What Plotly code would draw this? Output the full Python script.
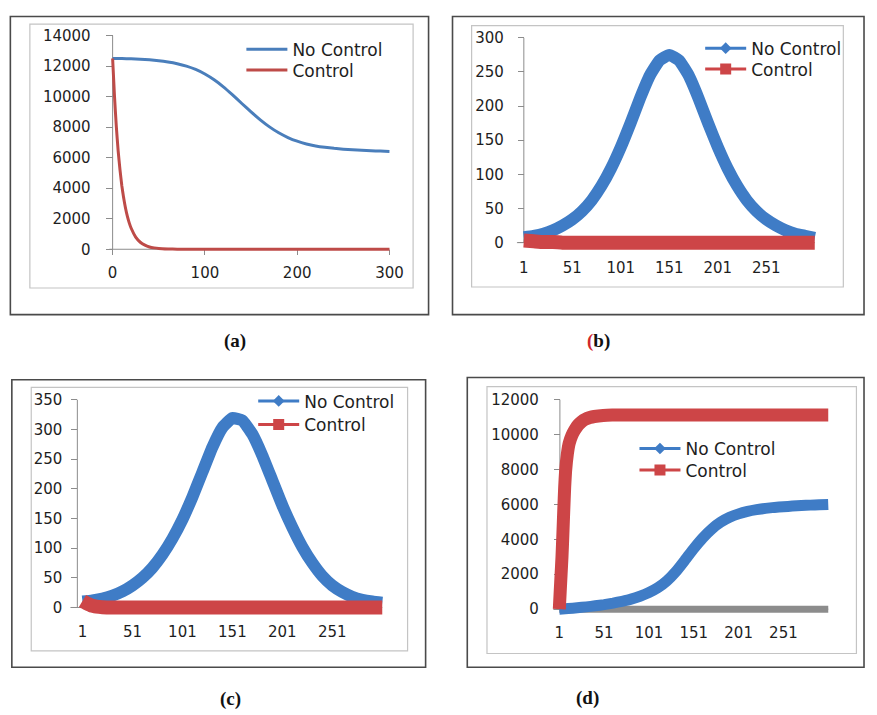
import plotly.graph_objects as go

W, H = 877, 715

# ---------------- data ----------------
# panel (a)
a_days_nc = [0, 10, 20, 30, 40, 50, 60, 70, 80, 90, 100, 110, 120, 130, 140, 150,
             160, 170, 180, 190, 200, 210, 220, 230, 240, 250, 260, 270, 280, 290, 300]
a_no_control = [12500, 12490, 12475, 12450, 12410, 12350, 12270, 12160, 12000, 11780, 11480,
                11100, 10640, 10110, 9550, 9000, 8480, 8020, 7630, 7320, 7080, 6900, 6770,
                6680, 6610, 6560, 6520, 6490, 6460, 6430, 6410]
a_days_c = [0, 2, 4, 6, 8, 10, 12, 14, 16, 18, 20, 25, 30, 35, 40, 45, 50, 60, 70, 80,
            100, 150, 200, 250, 300]
a_control = [12500, 10050, 8050, 6450, 5200, 4150, 3350, 2680, 2150, 1730, 1390, 800, 460,
             265, 150, 90, 50, 17, 6, 2, 0, 0, 0, 0, 0]
a_xticks = [0, 100, 200, 300]
a_yticks = [0, 2000, 4000, 6000, 8000, 10000, 12000, 14000]

# panels (b)-(d): day categories
cats = [1, 11, 21, 31, 41, 51, 61, 71, 81, 91, 101, 111, 121, 131, 141, 151,
        161, 171, 181, 191, 201, 211, 221, 231, 241, 251, 261, 271, 281, 291, 301]
cat_ticks = [1, 51, 101, 151, 201, 251]

# panel (b)
b_no_control = [8, 10, 13, 18, 25, 34, 46, 62, 83, 109, 140, 175, 212, 245, 267, 275,
                267, 245, 212, 175, 140, 109, 83, 62, 46, 34, 25, 18, 13, 10, 7]
b_control = [3, 2, 1, 1, 0, 0, 0, 0, 0, 0, 0, 0, 0, 0, 0, 0,
             0, 0, 0, 0, 0, 0, 0, 0, 0, 0, 0, 0, 0, 0, 0]
b_yticks = [0, 50, 100, 150, 200, 250, 300]

# panel (c)
c_no_control = [10, 12, 15, 20, 27, 37, 50, 67, 89, 116, 148, 186, 228, 270, 303, 319,
                315, 292, 256, 214, 172, 135, 102, 75, 53, 37, 26, 18, 13, 10, 8]
c_cats_control = [1, 3, 5, 7, 9, 11, 15, 21, 31, 51, 101, 151, 201, 251, 301]
c_control = [11, 9, 7, 5.5, 4, 3, 1.5, 0.5, 0, 0, 0, 0, 0, 0, 0]
c_yticks = [0, 50, 100, 150, 200, 250, 300, 350]

# panel (d)
d_no_control = [0, 35, 80, 130, 190, 260, 345, 450, 575, 740, 950, 1230, 1620, 2150, 2800,
                3470, 4080, 4590, 4980, 5260, 5460, 5600, 5700, 5775, 5830, 5870, 5905,
                5935, 5960, 5980, 6000]
d_cats_control = [1, 2, 3, 4, 5, 6, 7, 8, 10, 12, 15, 18, 22, 26, 30, 35, 40, 50, 60, 80,
                  101, 151, 201, 251, 301]
d_control = [0, 1000, 2000, 3000, 4300, 5700, 7000, 7900, 8900, 9500, 9950, 10250, 10550,
             10750, 10880, 10980, 11040, 11100, 11120, 11130, 11130, 11130, 11130, 11130, 11130]
d_baseline = [0, 0, 0, 0, 0, 0, 0, 0, 0, 0, 0, 0, 0, 0, 0, 0,
              0, 0, 0, 0, 0, 0, 0, 0, 0, 0, 0, 0, 0, 0, 0]
d_yticks = [0, 2000, 4000, 6000, 8000, 10000, 12000]

series_names = ["No Control", "Control"]

# ---------------- styling / geometry ----------------
BLUE_A, RED_A = "#4A7EBB", "#BE4B48"
BLUE, RED, GRAY = "#3F7CC6", "#CD4547", "#8C8C8C"
TXT = "#1e1e1e"
AXC = "#8C8C8C"
TICKFONT = dict(family="DejaVu Sans", size=15, color=TXT)
LEGFONT = dict(family="DejaVu Sans", size=17, color=TXT)


def mapper(v1, p1, v2, p2):
    return lambda p: v1 + (p - p1) * (v2 - v1) / (p2 - p1)


geom = {
    1: dict(xd=(110, 397), yd=(27, 252), xm=(0, 113.3, 300, 394.3), ym=(0, 246.7, 14000, 30.0),
            yax=113.3, xax=246.7, xtl=5, ysd=12, xsd=5, xt=a_xticks, yt=a_yticks),
    2: dict(xd=(518, 843), yd=(28, 252), xm=(1, 530.7, 301, 826), ym=(0, 240, 300, 32.3),
            yax=530.7, xax=240, xtl=0, ysd=11, xsd=14, xt=cat_ticks, yt=b_yticks),
    3: dict(xd=(68, 402), yd=(394, 622), xm=(1, 82.7, 301, 387), ym=(0, 610, 350, 399.3),
            yax=77.5, xax=610, xtl=0, ysd=6, xsd=14, xt=cat_ticks, yt=c_yticks),
    4: dict(xd=(553, 862), yd=(394, 623), xm=(1, 566.7, 301, 839.7), ym=(0, 611.7, 12000, 399.3),
            yax=567.3, xax=611.7, xtl=0, ysd=12, xsd=13, xt=cat_ticks, yt=d_yticks),
}

fig = go.Figure()
layout = dict(width=W, height=H, margin=dict(l=0, r=0, t=0, b=0), autosize=False,
              paper_bgcolor="white", plot_bgcolor="rgba(0,0,0,0)", showlegend=True)
shapes = []
for n, g in geom.items():
    sx = "" if n == 1 else str(n)
    fxn = mapper(*g["xm"])
    fyn = mapper(*g["ym"])
    layout["xaxis" + sx] = dict(
        domain=[g["xd"][0] / W, g["xd"][1] / W], range=[fxn(g["xd"][0]), fxn(g["xd"][1])],
        anchor="free", position=1 - g["xax"] / H, showgrid=False, zeroline=False,
        showline=False, tickmode="array", tickvals=g["xt"], ticktext=[str(v) for v in g["xt"]],
        ticks="outside" if g["xtl"] else "", ticklen=g["xtl"], tickcolor=AXC,
        tickfont=TICKFONT, ticklabelstandoff=g["xsd"], layer="below traces", fixedrange=True)
    layout["yaxis" + sx] = dict(
        domain=[1 - g["yd"][1] / H, 1 - g["yd"][0] / H], range=[fyn(g["yd"][1]), fyn(g["yd"][0])],
        anchor="free", position=g["yax"] / W, showgrid=False, zeroline=False, showline=False,
        tickmode="array", tickvals=g["yt"], ticktext=[str(v) for v in g["yt"]],
        ticks="outside", ticklen=7 if n == 1 else 6, tickcolor=AXC, tickfont=TICKFONT,
        ticklabelstandoff=g["ysd"], layer="below traces", fixedrange=True)
    xr, yr = "x" + sx, "y" + sx
    xv = fxn(g["yax"])
    ytop = g["yt"][-1]
    # axis lines
    shapes.append(dict(type="line", xref=xr, yref=yr, x0=xv, x1=xv, y0=0, y1=ytop,
                       line=dict(color=AXC, width=1), layer="below"))
    xend = g["xt"][-1] if n == 1 else cats[-1]
    shapes.append(dict(type="line", xref=xr, yref=yr, x0=fxn(g["yax"] - 7), x1=xend, y0=0, y1=0,
                       line=dict(color=AXC, width=1), layer="below"))


def box(x0, y0, x1, y1, color, width):
    return dict(type="rect", xref="paper", yref="paper", x0=x0 / W, x1=x1 / W,
                y0=1 - y1 / H, y1=1 - y0 / H, line=dict(color=color, width=width),
                fillcolor="rgba(0,0,0,0)", layer="below")


# outer frames and inner chart borders
shapes += [
    box(9.5, 10.7, 434, 313, "#4a4a4a", 1.6), box(29.3, 18.3, 418.3, 286, "#c4c4c4", 1.2),
    box(458.3, 10.7, 876, 313, "#4a4a4a", 1.6), box(477.7, 20, 855, 285, "#c4c4c4", 1.2),
    box(11, 379, 431, 670.7, "#4a4a4a", 1.6), box(30.7, 386.7, 412.7, 654, "#c4c4c4", 1.2),
    box(473.3, 376.7, 876, 670.7, "#4a4a4a", 1.6), box(493.3, 386, 868.3, 656.7, "#c4c4c4", 1.2),
]
layout["shapes"] = shapes

SPL = dict(shape="spline", smoothing=0.4)


def lname(k):
    return "legend" if k == 1 else "legend%d" % k


# ---- panel (a)
fig.add_trace(go.Scatter(x=a_days_nc, y=a_no_control, mode="lines", name=series_names[0],
                         line=dict(color=BLUE_A, width=3, **SPL), xaxis="x", yaxis="y",
                         legend=lname(1)))
fig.add_trace(go.Scatter(x=a_days_c, y=a_control, mode="lines", name=series_names[1],
                         line=dict(color=RED_A, width=3, **SPL), xaxis="x", yaxis="y",
                         legend=lname(2)))


def band_panel(n, nc_x, nc_y, c_x, c_y, nc_w, c_w, leg1, leg2):
    sx = str(n)
    fig.add_trace(go.Scatter(x=nc_x, y=nc_y, mode="lines", showlegend=False,
                             line=dict(color=BLUE, width=nc_w, **SPL),
                             xaxis="x" + sx, yaxis="y" + sx))
    fig.add_trace(go.Scatter(x=c_x, y=c_y, mode="lines", showlegend=False,
                             line=dict(color=RED, width=c_w, **SPL),
                             xaxis="x" + sx, yaxis="y" + sx))
    fig.add_trace(go.Scatter(x=[None], y=[None], mode="lines+markers", name=series_names[0],
                             line=dict(color=BLUE, width=3),
                             marker=dict(symbol="diamond", size=9, color=BLUE),
                             xaxis="x" + sx, yaxis="y" + sx, legend=leg1))
    fig.add_trace(go.Scatter(x=[None], y=[None], mode="lines+markers", name=series_names[1],
                             line=dict(color=RED, width=3),
                             marker=dict(symbol="square", size=11, color=RED),
                             xaxis="x" + sx, yaxis="y" + sx, legend=leg2))


band_panel(2, cats, b_no_control, cats, b_control, 12, 14, lname(3), lname(4))
band_panel(3, cats, c_no_control, c_cats_control, c_control, 12, 14, lname(5), lname(6))
# panel (d): gray baseline first, underneath
fig.add_trace(go.Scatter(x=cats, y=d_baseline, mode="lines", showlegend=False,
                         line=dict(color=GRAY, width=7), xaxis="x4", yaxis="y4"))
band_panel(4, cats, d_no_control, d_cats_control, d_control, 11, 13, lname(7), lname(8))


def leg(xpx, row_center):
    return dict(x=xpx / W, y=1 - (row_center - 24) / H, xanchor="left", yanchor="top",
                xref="paper", yref="paper", bgcolor="rgba(0,0,0,0)", borderwidth=0,
                font=LEGFONT, itemwidth=41, tracegroupgap=0, orientation="v")


legend_pos = [(244, 50), (244, 71), (709.7, 49), (709.7, 70),
              (256, 406.7), (256, 430.7), (643, 455), (643, 476.7)]
for k, (lx, ly) in enumerate(legend_pos, start=1):
    layout[lname(k)] = leg(lx, ly)

LBL = dict(family="Liberation Serif", size=19, color="#111111")
labels = [(238, 340, "<b>(a)</b>"), (606, 340, "<b><span style='color:#d0282e'>(</span>b)</b>"),
          (233, 703, "<b>(c)</b>"), (595, 702, "<b>(d)</b>")]
layout["annotations"] = [dict(x=xp / W, y=1 - yp / H, xref="paper", yref="paper", text=t,
                              showarrow=False, font=LBL, xanchor="center", yanchor="middle")
                         for xp, yp, t in labels]

fig.update_layout(**layout)
fig.write_html("out.html", config={"displayModeBar": False, "staticPlot": True},
               post_script="document.body.style.margin='0';document.body.style.padding='0';"
                           "document.body.style.overflow='hidden';")
